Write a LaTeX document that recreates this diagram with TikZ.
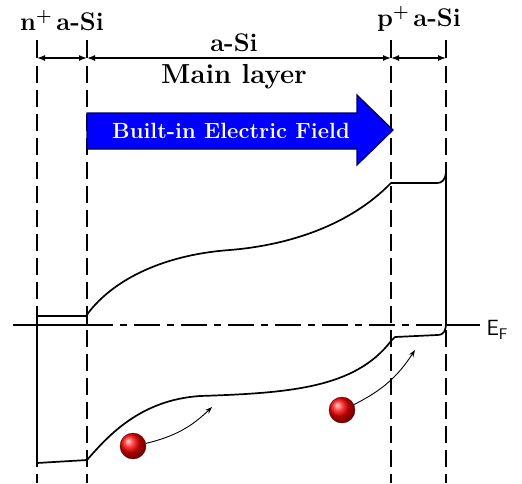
\documentclass[tikz,border=0pt]{standalone}
\usepackage{tikz}
\usetikzlibrary{positioning,arrows.meta,calc}
\usepackage{xcolor}

\begin{document}
\begin{tikzpicture}[x=1pt, y=-1pt,
    boundary/.style={line width=2.6pt, dash pattern=on 17pt off 7pt},
    tick/.style={line width=1.6pt},
    band/.style={line width=1.7pt, line join=round},
    dimarrow/.style={{Latex[length=8pt,width=6pt]}-{Latex[length=8pt,width=6pt]}, line width=1.4pt},
    layerlabel/.style={font=\fontsize{25.5}{30}\selectfont\bfseries},
    electron/.style={circle, ball color=red, draw=red!40!black, minimum size=26pt, inner sep=0pt},
    drift/.style={-{Stealth[length=7pt,width=5pt]}, line width=0.9pt}]
    \useasboundingbox (0,0) rectangle (522,483);

    % layer boundaries
    \draw[tick] (37,40) -- (37,58);
    \draw[tick] (87,40) -- (87,58);
    \draw[tick] (391,40) -- (391,58);
    \draw[tick] (446,40) -- (446,58);
    \draw[boundary] (37,66) -- (37,483);
    \draw[boundary] (87,66) -- (87,483);
    \draw[boundary] (391,66) -- (391,483);
    \draw[boundary] (446,66) -- (446,483);

    % widths of the layers
    \coordinate (b1) at (37,58);
    \coordinate (b2) at (87,58);
    \coordinate (b3) at (391,58);
    \coordinate (b4) at (446,58);
    \draw[dimarrow] (b1) -- (b2);
    \draw[dimarrow] (b2) -- (b3);
    \draw[dimarrow] (b3) -- (b4);
    \node[layerlabel] (nlayer) at (62,21) {n\textsuperscript{+}\,a-Si};
    \node[layerlabel] (player) at (419,19) {p\textsuperscript{+}\,a-Si};
    \node[layerlabel] (asi) at (234,43) {a-Si};
    \node[layerlabel, font=\fontsize{27.5}{32}\selectfont\bfseries] (main) at (234,77) {Main layer};

    % built-in field
    \draw[line width=1.2pt, draw=blue!35!black, fill=blue]
        (87,113) -- (357,113) -- (357,95) -- (393,130) -- (357,165) -- (357,149) -- (87,149) -- cycle;
    \node[font=\fontsize{22}{26}\selectfont\bfseries, text=white] (field) at (231,131) {Built-in Electric Field};

    % Fermi level
    \node[anchor=west, font=\fontsize{22}{26}\selectfont\sffamily] (EF) at (483,330) {E\textsubscript{F}};
    \draw[line width=1.2pt] (13,325) -- (87,325);
    \draw[line width=1.2pt, dash pattern=on 26pt off 7pt on 7pt off 7pt] (87,325) -- (446,325);
    \draw[line width=1.2pt] (446,325) -- (480,325);

    % conduction band
    \draw[band] (37,325) -- (37,316) -- (86,316) .. controls (110,282) and (160,255) .. (230,250)
        .. controls (290,245) and (350,225) .. (391,183) -- (436,183)
        .. controls (443,183) and (445,180) .. (446,172) -- (446,325);
    \draw[band] (87,316) -- (87,325);

    % valence band
    \draw[band] (37,325) -- (37,463) -- (87,460) .. controls (108,436) and (140,400) .. (200,396)
        .. controls (290,393) and (355,388) .. (391,341) -- (395,337) -- (437,335)
        .. controls (444,335) and (446,331) .. (446,322);

    % electrons
    \node[electron] (e1) at (133,446) {};
    \node[electron] (e2) at (342,410) {};
    \coordinate (t1) at (212,407);
    \coordinate (t2) at (415,350);
    \draw[drift] (e1) to[bend right=15] (t1);
    \draw[drift] (e2) to[bend right=15] (t2);
\end{tikzpicture}
\end{document}
